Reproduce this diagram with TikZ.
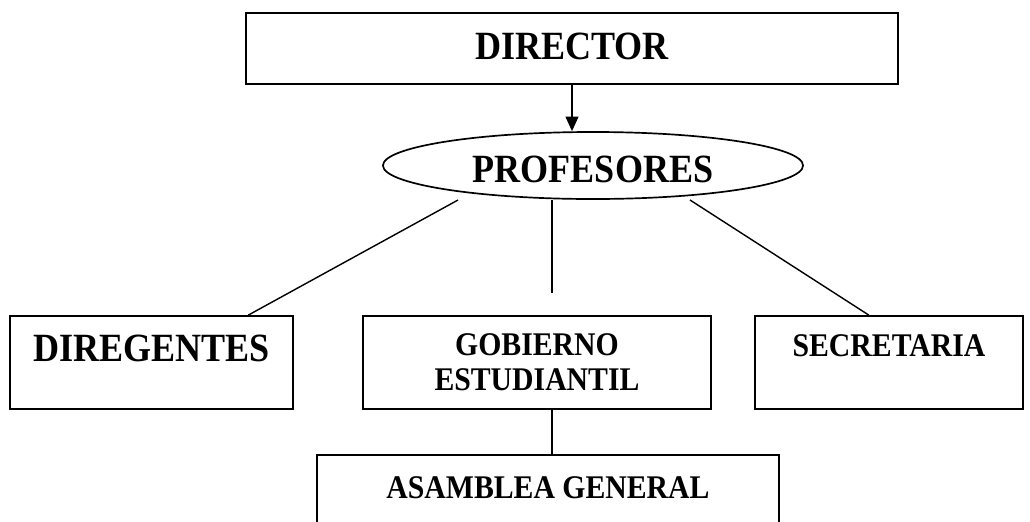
\documentclass[tikz,border=0pt]{standalone}
\usepackage{fontspec}
\setmainfont{Liberation Serif}[FakeStretch=0.9]
\usetikzlibrary{shapes.geometric,arrows.meta,calc}
\tikzset{
  caja/.style={draw, line width=1.3pt, inner sep=0pt},
  bigtxt/.style={font=\bfseries\fontsize{28.5}{32}\selectfont, text height=0.663cm, text depth=0cm},
  smalltxt/.style={font=\bfseries\fontsize{23.5}{24.8}\selectfont},
}

\begin{document}
\begin{tikzpicture}[x=0.025cm,y=-0.025cm,line width=1pt]
\useasboundingbox (0,0) rectangle (1030,521);
\node[caja,bigtxt,text depth=0.125cm,minimum width=16.3cm,minimum height=1.775cm] (dir) at (572,48.5) {DIRECTOR};
\node[ellipse,draw,line width=1.2pt,bigtxt,text height=0.863cm,inner sep=0pt,minimum width=10.5cm,minimum height=1.675cm] (prof) at (593,165.5) {PROFESORES};
\node[caja,bigtxt,text depth=0.7cm,minimum width=7.075cm,minimum height=2.325cm] (dig) at (151.5,362.5) {DIREGENTES};
\node[caja,smalltxt,align=center,minimum width=8.7cm,minimum height=2.325cm] (gob) at (537,362.5) {GOBIERNO\\ESTUDIANTIL};
\node[caja,smalltxt,text height=0.547cm,text depth=0.825cm,minimum width=6.7cm,minimum height=2.325cm] (sec) at (889,362.5) {SECRETARIA};
\node[caja,smalltxt,text height=0.547cm,text depth=0.875cm,minimum width=11.55cm,minimum height=2.5cm] (asa) at (548,505) {ASAMBLEA GENERAL};
% lineas
\coordinate (pizq) at (458,200);
\coordinate (pmed) at (552,200);
\coordinate (pmedfin) at (552,293);
\coordinate (pder) at (690,200);
\draw[-{Triangle[length=3.6mm,width=3.2mm]}] (dir.south) -- (dir.south |- prof.north);
\draw (pizq) -- ($(dig.north west)!0.84!(dig.north east)$);
\draw (pmed) -- (pmedfin);
\draw (pder) -- ($(sec.north west)!0.425!(sec.north east)$);
\draw (gob.south -| pmed) -- (asa.north -| pmed);
\end{tikzpicture}
\end{document}
